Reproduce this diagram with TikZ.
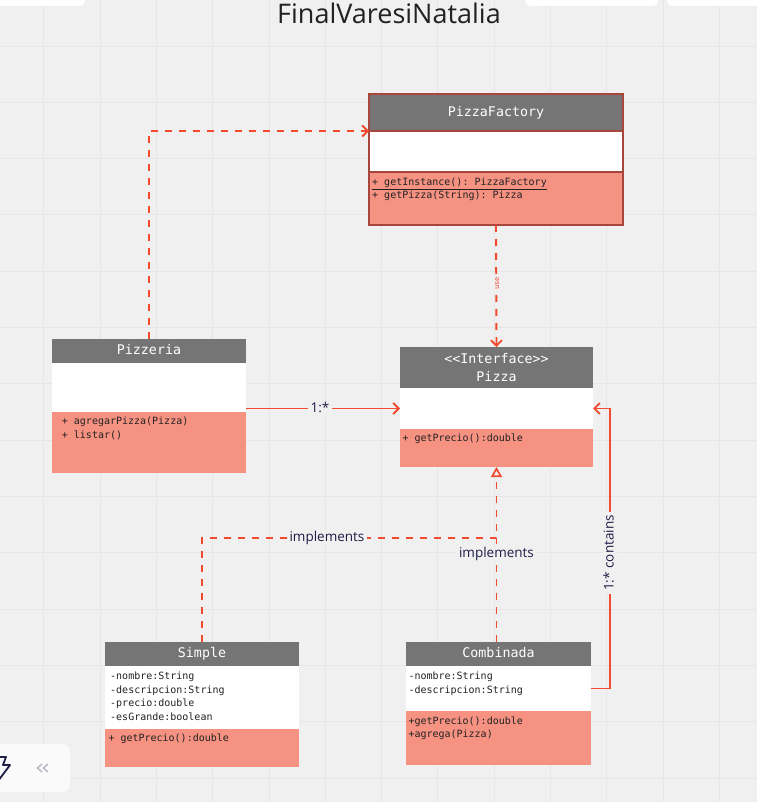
\documentclass[tikz,border=0pt]{standalone}
\usepackage{fontspec}
\setmonofont{DejaVu Sans Mono}
\newfontfamily\labelfont{Open Sans}
\usetikzlibrary{arrows.meta,calc}
\definecolor{bg}{HTML}{F0F0F0}
\definecolor{gridc}{HTML}{E6E6E6}
\definecolor{redl}{HTML}{F24A2E}
\definecolor{hdrc}{HTML}{757575}
\definecolor{methc}{HTML}{F69282}
\definecolor{framec}{HTML}{A9463B}
\definecolor{navy}{HTML}{1E1E46}
\definecolor{txt}{HTML}{222222}
\definecolor{uigrey}{HTML}{B8B8C8}
\begin{document}
\begin{tikzpicture}[x=1pt,y=-1pt,
  sect/.style={anchor=north west, inner sep=0pt, outer sep=0pt, minimum width=#1},
  hdr/.style={sect=#1, fill=hdrc, text=white, font=\fontsize{13.3}{18.4}\selectfont\ttfamily, text height=.72em, text depth=0pt},
  hdrtwo/.style={sect=#1, fill=hdrc, text=white, align=center, font=\fontsize{13.3}{18.4}\selectfont\ttfamily},
  attr/.style={sect=#1, fill=white},
  meth/.style={sect=#1, fill=methc},
  mem/.style={anchor=base west, inner sep=0pt, text=txt, font=\fontsize{10}{12}\selectfont\ttfamily},
  lbl/.style={fill=bg, inner sep=3pt, text=navy, font=\fontsize{13.5}{15}\selectfont\labelfont, text height=.72em, text depth=0pt},
  uselbl/.style={fill=bg, inner sep=2pt, text=redl, rotate=90, font=\fontsize{7}{8}\selectfont\ttfamily, text height=.6em, text depth=0pt},
  dashline/.style={draw=redl, line width=1.9pt, dash pattern=on 7pt off 7pt},
  dep/.style={dashline, -{Straight Barb[length=5.5pt,width=11pt]}},
  assoc/.style={draw=redl, line width=1.9pt, -{Straight Barb[length=5.5pt,width=11pt]}},
  impl/.style={dashline, -{Triangle[open,length=10pt,width=11pt,line width=1.7pt]}},
  pfframe/.style={draw=framec, line width=1.2pt}
]
\useasboundingbox (0,0) rectangle (757,802);
\fill[bg] (0,0) rectangle (757,802);
% grid
\foreach \gx in {0,...,12} \draw[gridc, line width=0.8pt] ({43.7+56.3*\gx},0) -- ++(0,802);
\foreach \gy in {0,...,13} \draw[gridc, line width=0.8pt] (0,{46+56.3*\gy}) -- ++(757,0);
% ui shapes
\fill[white, rounded corners=5pt] (-10,-8) rectangle (85,6);
\fill[white, rounded corners=5pt] (525,-8) rectangle (658,6);
\fill[white, rounded corners=5pt] (667,-8) rectangle (767,6);
\fill[white!70!bg, rounded corners=7pt] (-10,744) rectangle (70,792);
\draw[navy, line width=1.8pt, line join=round] (-2,757) -- (6,757) -- (3,765) -- (10,765) -- (-2,781);
\draw[uigrey, line width=1.5pt] (42,764) -- (37.5,768) -- (42,772);
\draw[uigrey, line width=1.5pt] (48,764) -- (43.5,768) -- (48,772);
% title
\node[text=txt, inner sep=0pt, font=\fontsize{27}{30}\selectfont\labelfont, text height=.72em, text depth=0pt] (title) at (389,19.7) {FinalVaresiNatalia};

% PizzaFactory
\node[hdr=254, minimum height=37, pfframe] (pfH) at (369,94) {PizzaFactory};
\node[attr=254, minimum height=41, pfframe] (pfA) at (pfH.south west) {};
\node[meth=254, minimum height=53, pfframe] (pfM) at (pfA.south west) {};
\node[mem] (pfm1) at (372,185.2) {\underline{+ getInstance(): PizzaFactory}};
\node[mem] (pfm2) at (372,198.5) {+ getPizza(String): Pizza};

% Pizzeria
\node[hdr=194, minimum height=24] (pzrH) at (52,339) {Pizzeria};
\node[attr=194, minimum height=49] (pzrA) at (pzrH.south west) {};
\node[meth=194, minimum height=61] (pzrM) at (pzrA.south west) {};
\node[mem] (pzrm1) at (61.7,424.2) {+ agregarPizza(Pizza)};
\node[mem] (pzrm2) at (61.7,438.5) {+ listar()};

% Pizza
\node[hdrtwo=193, minimum height=41] (pzH) at (400,347) {<{}<Interface>{}>\\Pizza};
\node[attr=193, minimum height=41] (pzA) at (pzH.south west) {};
\node[meth=193, minimum height=38] (pzM) at (pzA.south west) {};
\node[mem] (pzm1) at (402.3,441.5) {+ getPrecio():double};

% Simple
\node[hdr=194, minimum height=24] (smH) at (105,642) {Simple};
\node[attr=194, minimum height=63] (smA) at (smH.south west) {};
\node[meth=194, minimum height=38] (smM) at (smA.south west) {};
\node[mem] (sma1) at (110,679.2) {-nombre:String};
\node[mem] (sma2) at (110,693.5) {-descripcion:String};
\node[mem] (sma3) at (110,706.8) {-precio:double};
\node[mem] (sma4) at (110,720.2) {-esGrande:boolean};
\node[mem] (smm1) at (108.3,741.2) {+ getPrecio():double};

% Combinada
\node[hdr=185, minimum height=24] (cbH) at (406,642) {Combinada};
\node[attr=185, minimum height=45] (cbA) at (cbH.south west) {};
\node[meth=185, minimum height=54] (cbM) at (cbA.south west) {};
\node[mem] (cba1) at (408.3,679.2) {-nombre:String};
\node[mem] (cba2) at (408.3,693.5) {-descripcion:String};
\node[mem] (cbm1) at (408.3,724.2) {+getPrecio():double};
\node[mem] (cbm2) at (408.3,737.5) {+agrega(Pizza)};

% connectors
\draw[dep] (pzrH.north) |- (pfA.north west);
\draw[dep] (pfM.south) -- node[uselbl, pos=0.48] (useL) {use} (pzH.north);
\draw[assoc] (pzA.west -| pzrA.east) -- node[lbl, pos=0.48] (oneL) {1:*} (pzA.west);
\coordinate (cR) at ($(pzA.east)+(17,0)$);
\draw[assoc] (cbA.east) -| (cR) -- (pzA.east);
\node[lbl, rotate=90] (cLbl) at (610,553) {1:* contains};
\coordinate (jn) at ($(pzM.south)+(0,70.7)$);
\draw[dashline] (cbH.north -| jn) -- (jn);
\draw[impl] (smH.north) |- (jn) -- (pzM.south);
\node[lbl] (im1) at (327,537.7) {implements};
\node[lbl] (im2) at ($(pzM.south)+(0,87)$) {implements};
\end{tikzpicture}
\end{document}
